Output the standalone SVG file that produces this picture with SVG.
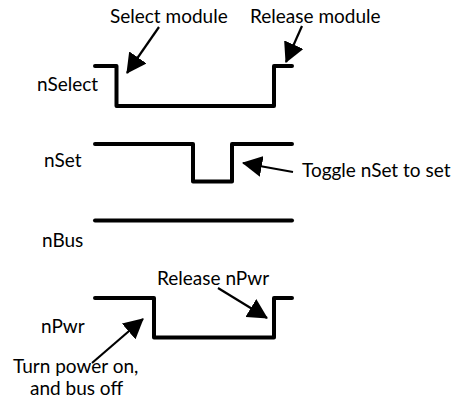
<svg xmlns="http://www.w3.org/2000/svg" width="451" height="407" viewBox="0 0 451 407">
<style>
text{font-family:"Lato","Liberation Sans",sans-serif;font-size:19px;fill:#000}
.wave{fill:none;stroke:#000;stroke-width:4;stroke-linejoin:round;stroke-linecap:round}
.arr{fill:none;stroke:#000;stroke-width:2.2}
</style>
<defs>
<marker id="ah" markerUnits="userSpaceOnUse" viewBox="0 0 20 21" refX="19" refY="10.5" markerWidth="20" markerHeight="21" orient="auto">
<path d="M0,0 L20,10.5 L0,21 Z" fill="#000"/>
</marker>
</defs>
<g id="nSelect">
<text x="37" y="91">nSelect</text>
<path class="wave" d="M95,66 H116.5 V106 H274 V66 H292"/>
</g>
<g id="nSet">
<text x="44" y="167">nSet</text>
<path class="wave" d="M95,144 H193 V181.5 H232 V144 H292"/>
</g>
<g id="nBus">
<text x="42" y="247">nBus</text>
<path class="wave" d="M95,220.5 H292"/>
</g>
<g id="nPwr">
<text x="41" y="333">nPwr</text>
<path class="wave" d="M95,298 H154 V337.5 H274 V298 H292"/>
</g>
<g id="labels">
<text x="110" y="23">Select module</text>
<text x="250" y="23">Release module</text>
<text x="302" y="177">Toggle nSet to set</text>
<text x="157" y="285">Release nPwr</text>
<text x="13" y="373">Turn power on,</text>
<text x="30" y="395">and bus off</text>
</g>
<g id="connectors">
<line class="arr" x1="159" y1="27" x2="127" y2="73" marker-end="url(#ah)"/>
<line class="arr" x1="302" y1="26" x2="286" y2="62" marker-end="url(#ah)"/>
<line class="arr" x1="293" y1="172" x2="243" y2="163" marker-end="url(#ah)"/>
<line class="arr" x1="218" y1="288" x2="267" y2="318" marker-end="url(#ah)"/>
<line class="arr" x1="92" y1="363" x2="143" y2="319" marker-end="url(#ah)"/>
</g>
</svg>
